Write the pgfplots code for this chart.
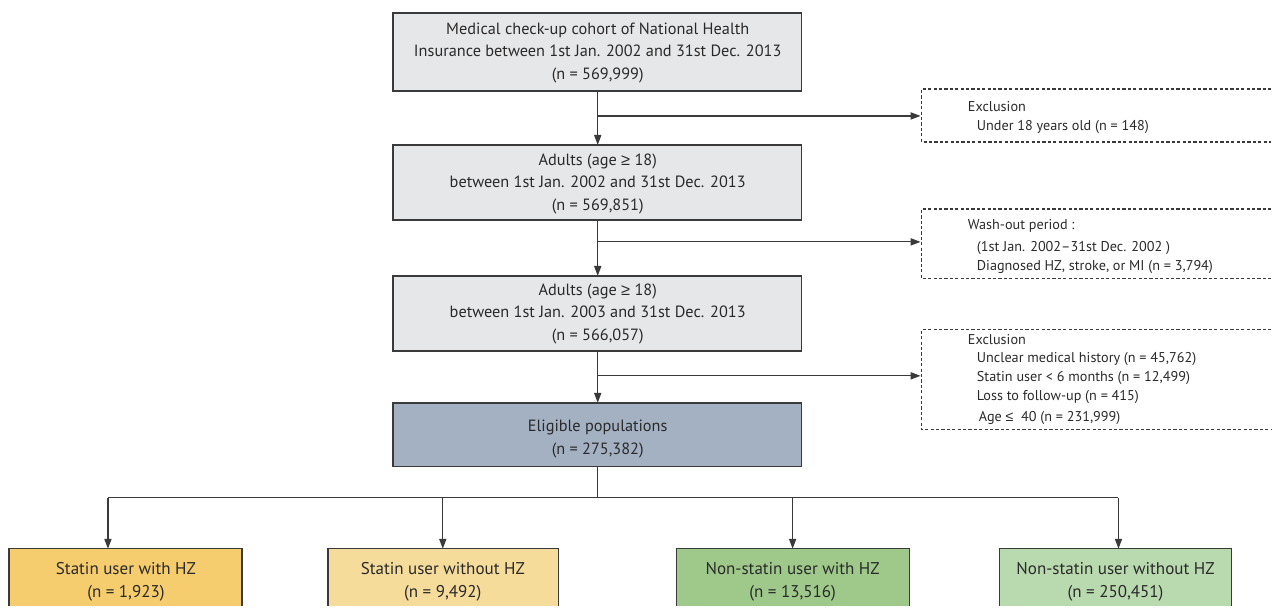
\documentclass[border=0pt]{standalone}
\usepackage{pgfplots}
\pgfplotsset{compat=1.18}
\usepackage{fontspec}
\setmainfont{PT Sans}
\newfontfamily\symf{Liberation Sans}
\usetikzlibrary{arrows.meta}
\definecolor{boxgray}{HTML}{E6E7E9}
\definecolor{boxblue}{HTML}{A3B1C3}
\definecolor{boxA}{HTML}{F5CC6E}
\definecolor{boxB}{HTML}{F5DC9B}
\definecolor{boxC}{HTML}{9FC98B}
\definecolor{boxD}{HTML}{B9D9AE}
\definecolor{bord}{HTML}{3A3A3A}
\definecolor{txt}{HTML}{2A2A2A}
\newcommand{\fs}{\fontsize{8.15}{11.3}\selectfont}
\newcommand{\fb}{\fontsize{8.5}{11.3}\selectfont}
\newcommand{\fe}{\fontsize{7.1}{9.8}\selectfont}
\begin{document}
\begin{tikzpicture}
\begin{axis}[scale only axis, width=636pt, height=303pt,
  xmin=0, xmax=1272, ymin=0, ymax=606, y dir=reverse,
  hide axis, clip=false]
\addplot[draw=none] coordinates {(0,0) (1272,606)};
\path (0,0) rectangle (1272,606);
% main boxes
\filldraw[fill=boxgray, draw=bord, line width=0.7pt] (393,13) rectangle (802,91);
\filldraw[fill=boxgray, draw=bord, line width=0.7pt] (393,145) rectangle (802,220);
\filldraw[fill=boxgray, draw=bord, line width=0.7pt] (393,276) rectangle (802,351);
\filldraw[fill=boxblue, draw=bord, line width=0.7pt] (393,403) rectangle (802,467);
\node[align=center, font=\fs, text=txt] at (598,53) {Medical check-up cohort of National Health\\Insurance between 1st Jan. 2002 and 31st Dec. 2013\\(n = 569,999)};
\node[align=center, font=\fs, text=txt] at (598,184) {Adults (age {\symf ≥} 18)\\between 1st Jan. 2002 and 31st Dec. 2013\\(n = 569,851)};
\node[align=center, font=\fs, text=txt] at (598,314) {Adults (age {\symf ≥} 18)\\between 1st Jan. 2003 and 31st Dec. 2013\\(n = 566,057)};
\node[align=center, font=\fs, text=txt] at (598,439) {Eligible populations\\(n = 275,382)};
% vertical arrows
\draw[bord, line width=0.6pt, -{Triangle[length=5pt,width=3.6pt]}] (598,91) -- (598,145);
\draw[bord, line width=0.6pt, -{Triangle[length=5pt,width=3.6pt]}] (598,220) -- (598,276);
\draw[bord, line width=0.6pt, -{Triangle[length=5pt,width=3.6pt]}] (598,351) -- (598,403);
% side arrows
\draw[bord, line width=0.6pt, -{Triangle[length=5pt,width=3.6pt]}] (598,116) -- (921,116);
\draw[bord, line width=0.6pt, -{Triangle[length=5pt,width=3.6pt]}] (598,242) -- (921,242);
\draw[bord, line width=0.6pt, -{Triangle[length=5pt,width=3.6pt]}] (598,376) -- (921,376);
% dashed boxes
\draw[bord, line width=0.6pt, dash pattern=on 1.6pt off 1.1pt] (1272,89) -- (922,89) -- (922,142) -- (1272,142);
\draw[bord, line width=0.6pt, dash pattern=on 1.6pt off 1.1pt] (1272,209) -- (922,209) -- (922,279) -- (1272,279);
\draw[bord, line width=0.6pt, dash pattern=on 1.6pt off 1.1pt] (1272,330) -- (922,330) -- (922,430) -- (1272,430);
\begin{scope}[every node/.style={anchor=west, inner sep=0pt, font=\fe, text=txt}]
\node at (968,107) {Exclusion};
\node at (977,127) {Under 18 years old (n = 148)};
\node at (968,226) {Wash-out period :};
\node at (977,248) {(1st Jan. 2002–31st Dec. 2002 )};
\node at (977,267) {Diagnosed HZ, stroke, or MI (n = 3,794)};
\node at (968,340) {Exclusion};
\node at (977,359) {Unclear medical history (n = 45,762)};
\node at (977,378) {Statin user < 6 months (n = 12,499)};
\node at (977,397) {Loss to follow-up (n = 415)};
\node at (979,418) {Age {\symf ≤}~ 40 (n = 231,999)};
\end{scope}
% bottom tree
\draw[bord, line width=0.6pt] (598,467) -- (598,498);
\draw[bord, line width=0.6pt] (108,498) -- (1119,498);
\draw[bord, line width=0.6pt, -{Triangle[length=5pt,width=3.6pt]}] (108,498) -- (108,549);
\draw[bord, line width=0.6pt, -{Triangle[length=5pt,width=3.6pt]}] (443,498) -- (443,549);
\draw[bord, line width=0.6pt, -{Triangle[length=5pt,width=3.6pt]}] (793,498) -- (793,549);
\draw[bord, line width=0.6pt, -{Triangle[length=5pt,width=3.6pt]}] (1119,498) -- (1119,549);
% bottom boxes
\fill[boxA] (9,549) rectangle (242,606);
\draw[bord, line width=0.7pt] (9,606) -- (9,549) -- (242,549) -- (242,606);
\fill[boxB] (328,549) rectangle (559,606);
\draw[bord, line width=0.7pt] (328,606) -- (328,549) -- (559,549) -- (559,606);
\fill[boxC] (677,549) rectangle (910,606);
\draw[bord, line width=0.7pt] (677,606) -- (677,549) -- (910,549) -- (910,606);
\fill[boxD] (1000,549) rectangle (1232,606);
\draw[bord, line width=0.7pt] (1000,606) -- (1000,549) -- (1232,549) -- (1232,606);
\node[align=center, font=\fb, text=txt] at (126,582) {Statin user with HZ\\(n = 1,923)};
\node[align=center, font=\fb, text=txt] at (443,582) {Statin user without HZ\\(n = 9,492)};
\node[align=center, font=\fb, text=txt] at (793,582) {Non-statin user with HZ\\(n = 13,516)};
\node[align=center, font=\fb, text=txt] at (1116,582) {Non-statin user without HZ\\(n = 250,451)};
\end{axis}
\end{tikzpicture}
\end{document}
